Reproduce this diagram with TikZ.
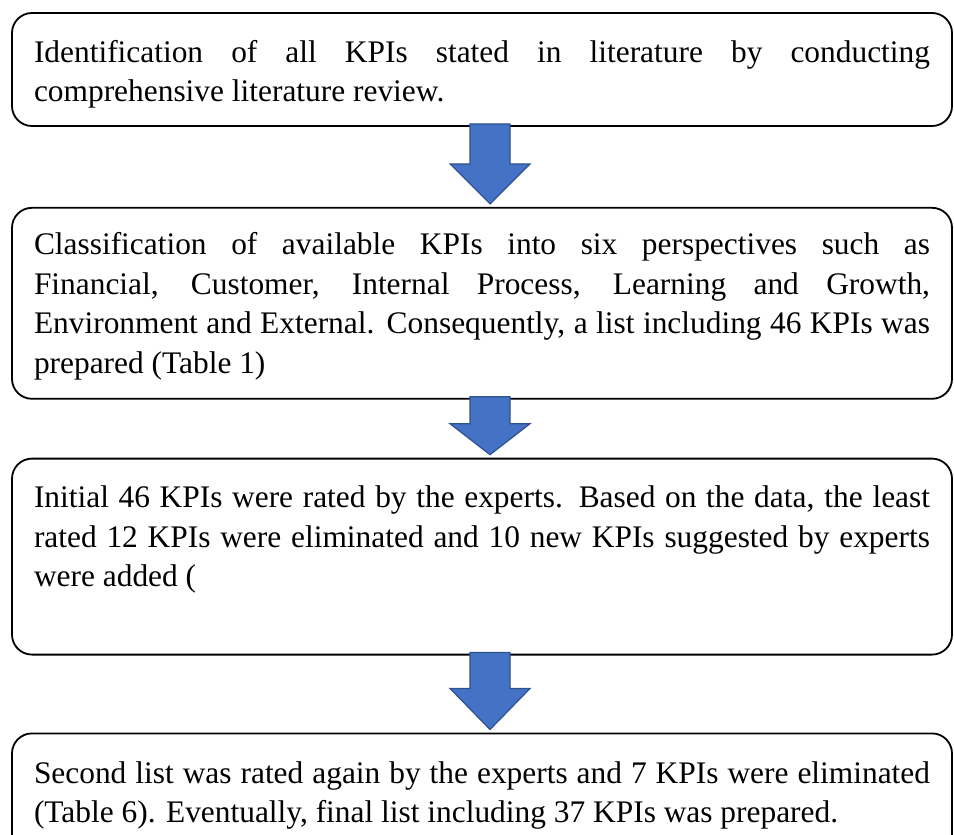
\documentclass[tikz,border=0pt]{standalone}
\usepackage{fontspec}
\setmainfont{Liberation Serif}
\usetikzlibrary{positioning, calc}

\definecolor{arrowfill}{RGB}{68,114,196}
\definecolor{arrowedge}{RGB}{47,82,143}

\tikzset{
  stepbox/.style={draw=black, line width=0.9pt, rounded corners=10pt,
    minimum width=470pt, text width=448pt, inner xsep=11pt, align=justify,
    font=\fontsize{15.7}{19.8}\selectfont},
  downarrow/.style={fill=arrowfill, draw=arrowedge, line width=0.6pt}
}

% block arrow from the bottom of #1 to the top of #2, head length #3
\newcommand{\blockarrow}[3]{%
  \draw[downarrow] let \p1=($(#1.south)+(4pt,1.5pt)$), \p2=($(#2.north)+(4pt,1.5pt)$) in
    (\x1-10pt,\y1) -- (\x1+10pt,\y1) -- (\x1+10pt,\y2+#3) -- (\x1+20pt,\y2+#3)
    -- (\x1,\y2) -- (\x1-20pt,\y2+#3) -- (\x1-10pt,\y2+#3) -- cycle;
}

\begin{document}
\begin{tikzpicture}
\useasboundingbox (0,0) rectangle (477pt,-417.5pt);
\clip (0,0) rectangle (477pt,-417.5pt);
% Steps
\node[stepbox, minimum height=56.5pt, text height=16pt] (step1) at (241pt,-34.75pt)
  {Identification of all KPIs stated in literature by conducting\linebreak
   comprehensive literature review.};
\node[stepbox, minimum height=95.5pt, text height=14pt, below=40pt of step1] (step2)
  {Classification of available KPIs into six perspectives such as\linebreak
   Financial, Customer, Internal Process, Learning and Growth,\linebreak
   Environment and External. Consequently, a list including 46 KPIs was\linebreak
   prepared (Table 1)};
\node[stepbox, minimum height=98pt, text depth=60pt, below=29pt of step2] (step3)
  {Initial 46 KPIs were rated by the experts. Based on the data, the least\linebreak
   rated 12 KPIs were eliminated and 10 new KPIs suggested by experts\linebreak
   were added (};
\node[stepbox, minimum height=62pt, below=38.5pt of step3] (step4)
  {Second list was rated again by the experts and 7 KPIs were eliminated\linebreak
   (Table 6). Eventually, final list including 37 KPIs was prepared.};
% Arrows
\foreach \a/\b/\h in {step1/step2/20pt, step2/step3/15.5pt, step3/step4/20.5pt}
  \blockarrow{\a}{\b}{\h};
\end{tikzpicture}
\end{document}
